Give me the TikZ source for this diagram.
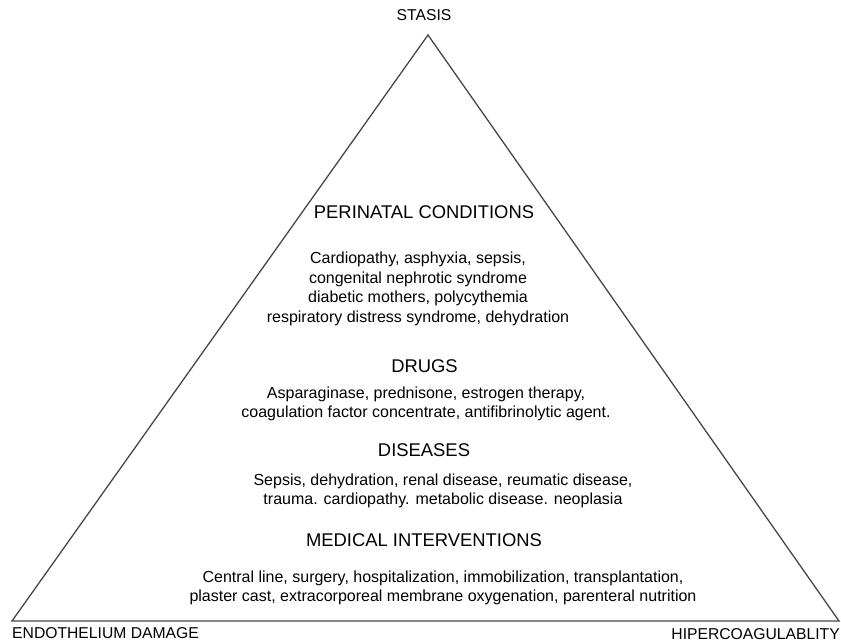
\documentclass[tikz,border=0pt]{standalone}
\usepackage{fontspec}
\setmainfont{Liberation Sans}
\begin{document}
\begin{tikzpicture}[x=1pt,y=-1pt,
  head/.style={inner sep=0pt, font=\fontsize{18.4}{22}\selectfont},
  body/.style={inner sep=0pt, align=center, font=\fontsize{16}{19.6}\selectfont},
  corner/.style={inner sep=0pt, font=\fontsize{15.7}{19}\selectfont},
  side/.style={draw=black!72, line width=1.3pt, line join=miter}]
\useasboundingbox (0,0) rectangle (841,642);
\coordinate (top) at (428,35);
\coordinate (bl) at (12,621);
\coordinate (br) at (839,621);
\draw[side] (top) -- (bl) -- (br) -- cycle;
\node[corner] (stasis) at (424,15) {STASIS};
\node[corner, anchor=west] (endo) at (12,633) {ENDOTHELIUM DAMAGE};
\node[corner, anchor=east] (hiper) at (840,634) {HIPERCOAGULABLITY};
\node[head] (peri) at (424,212) {PERINATAL CONDITIONS};
\node[body] (perib) at (418,289) {Cardiopathy, asphyxia, sepsis,\\congenital nephrotic syndrome\\diabetic mothers, polycythemia\\respiratory distress syndrome, dehydration};
\node[head] (drugs) at (424.5,366) {DRUGS};
\node[body] (drugsb) at (426,404) {Asparaginase, prednisone, estrogen therapy,\\coagulation factor concentrate, antifibrinolytic agent.};
\node[head] (dis) at (424,450) {DISEASES};
\node[body] (disb) at (443,491) {Sepsis, dehydration, renal disease, reumatic disease,\\trauma. cardiopathy. metabolic disease. neoplasia};
\node[head] (med) at (424,540) {MEDICAL INTERVENTIONS};
\node[body] (medb) at (443,588) {Central line, surgery, hospitalization, immobilization, transplantation,\\plaster cast, extracorporeal membrane oxygenation, parenteral nutrition};
\end{tikzpicture}
\end{document}
